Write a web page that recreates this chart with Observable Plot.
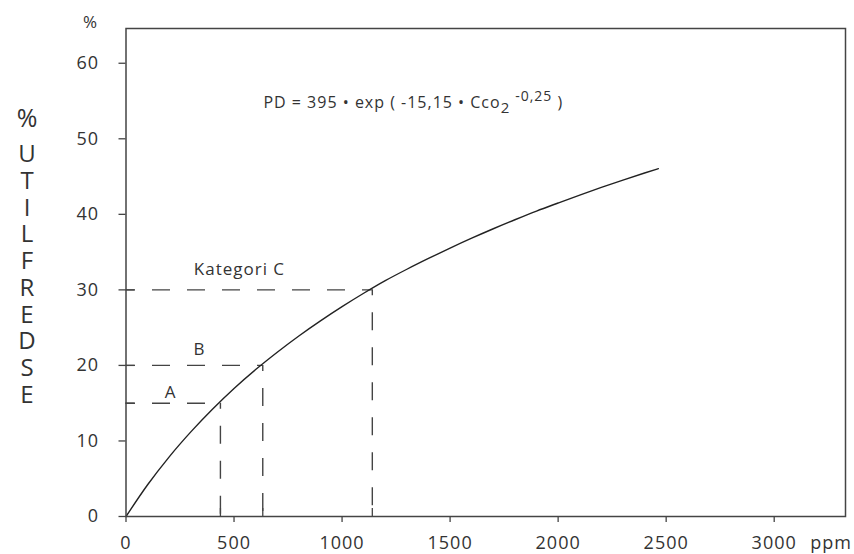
<!DOCTYPE html>
<html>
<head>
<meta charset="utf-8">
<script src="https://cdn.jsdelivr.net/npm/d3@7"></script>
<script src="https://cdn.jsdelivr.net/npm/@observablehq/plot@0.6"></script>
<style>
  html, body { margin: 0; padding: 0; background: #fff; }
</style>
</head>
<body>
<div id="chart"></div>
<script>
// Axis ticks
const xTicks = [0, 500, 1000, 1500, 2000, 2500, 3000];
const yTicks = [0, 10, 20, 30, 40, 50, 60];

// Curve (ppm -> % dissatisfied)
const curvePpm = [0, 100, 200, 300, 400, 500, 600, 700, 800, 900, 1000, 1100, 1200, 1300, 1400, 1500, 1600, 1700, 1800, 1900, 2000, 2100, 2200, 2300, 2400, 2464];
const curvePct = [0, 4.2, 7.9, 11.2, 14.2, 16.95, 19.45, 21.75, 23.9, 25.9, 27.78, 29.55, 31.22, 32.73, 34.16, 35.53, 36.84, 38.09, 39.28, 40.43, 41.5, 42.55, 43.56, 44.53, 45.47, 46.05];

// Category guide lines (A, B, C)
const categoryPpm = [437, 633, 1140];
const categoryPct = [15, 20, 30];

// Category labels
const labelText = ["A", "B", "Kategori C"];
const labelPpm = [206, 340, 525];
const labelPct = [16.4, 22.1, 32.7];

// Formula
const formulaParts = ["PD = 395 • exp ( -15,15 • Cco", "2", "-0,25", " )"];
const formulaPpm = [636];
const formulaPct = [54.7];

// Titles
const yTitlePercent = ["%"];
const yTitleLetters = ["U", "T", "I", "L", "F", "R", "E", "D", "S", "E"];
const yUnit = ["%"];
const xUnit = ["ppm"];

const curve = curvePpm.map((x, i) => ({x, y: curvePct[i]}));
const cats = categoryPpm.map((x, i) => ({x, y: categoryPct[i]}));
const labels = labelText.map((t, i) => ({t, x: labelPpm[i], y: labelPct[i]}));
const formula = [{t: formulaParts[0], x: formulaPpm[0], y: formulaPct[0]}];

const ink = "#333";
const chart = Plot.plot({
  width: 854,
  height: 554,
  marginLeft: 125.5,
  marginRight: 9,
  marginTop: 28,
  marginBottom: 38,
  style: {fontFamily: "'Open Sans', sans-serif", color: ink, background: "#fff", letterSpacing: "1px"},
  x: {domain: [0, 3330], axis: null},
  y: {domain: [0, 64.6], axis: null},
  marks: [
    Plot.ruleY(cats, {y: "y", x1: 0, x2: "x", stroke: "#444", strokeWidth: 1.4, strokeDasharray: "18,17", strokeDashoffset: 8.5}),
    Plot.ruleX(cats, {x: "x", y1: "y", y2: 0, stroke: "#444", strokeWidth: 1.4, strokeDasharray: "18,17", strokeDashoffset: 12}),
    Plot.line(curve, {x: "x", y: "y", curve: "monotone-x", stroke: "#222", strokeWidth: 1.4}),
    Plot.frame({stroke: "#444", strokeWidth: 1.5}),
    Plot.axisX(xTicks, {tickSize: 6, tickPadding: 14, fontSize: 18, tickFormat: d => String(d), label: null, stroke: "#444", strokeWidth: 1.3, fill: ink}),
    Plot.axisX(categoryPpm, {tickSize: -8, tickFormat: () => "", label: null, stroke: "#444", strokeWidth: 1.3}),
    Plot.axisY(yTicks, {tickSize: 7, tickPadding: 20, fontSize: 18, tickFormat: d => String(d), label: null, stroke: "#444", strokeWidth: 1.3, fill: ink}),
    Plot.axisY(categoryPct, {tickSize: -9, tickFormat: () => "", label: null, stroke: "#444", strokeWidth: 1.3}),
    Plot.text(xUnit, {x: 3000, frameAnchor: "bottom", textAnchor: "start", lineAnchor: "middle", dx: 36, dy: 27, fontSize: 18, fill: ink}),
    Plot.text(yUnit, {frameAnchor: "top-left", textAnchor: "middle", lineAnchor: "middle", dx: -35.5, dy: -6, fontSize: 17, fill: ink}),
    Plot.text(yTitlePercent, {frameAnchor: "left", textAnchor: "middle", lineAnchor: "middle", dx: -98.5, dy: -154, fontSize: 25, fill: ink}),
    Plot.text([yTitleLetters.join("\n")], {frameAnchor: "left", textAnchor: "middle", lineAnchor: "middle", dx: -98.5, dy: 1.4, fontSize: 24, lineHeight: 1.115, fill: ink}),
    Plot.text(labels, {x: "x", y: "y", text: "t", fontSize: 17, fill: ink}),
    Plot.text(formula, {x: "x", y: "y", text: "t", textAnchor: "start", fontSize: 16, fill: ink})
  ]
});

d3.select(chart).selectAll("text").each(function() {
  if (this.textContent === formulaParts[0]) {
    const t = d3.select(this);
    t.text(null);
    t.append("tspan").text(formulaParts[0]);
    t.append("tspan").attr("dy", 5).attr("font-size", 15).text(formulaParts[1]);
    t.append("tspan").attr("dy", -12).attr("dx", 5).attr("font-size", 14).text(formulaParts[2]);
    t.append("tspan").attr("dy", 7).attr("font-size", 16).text(formulaParts[3]);
  }
});

document.getElementById("chart").append(chart);
</script>
</body>
</html>
